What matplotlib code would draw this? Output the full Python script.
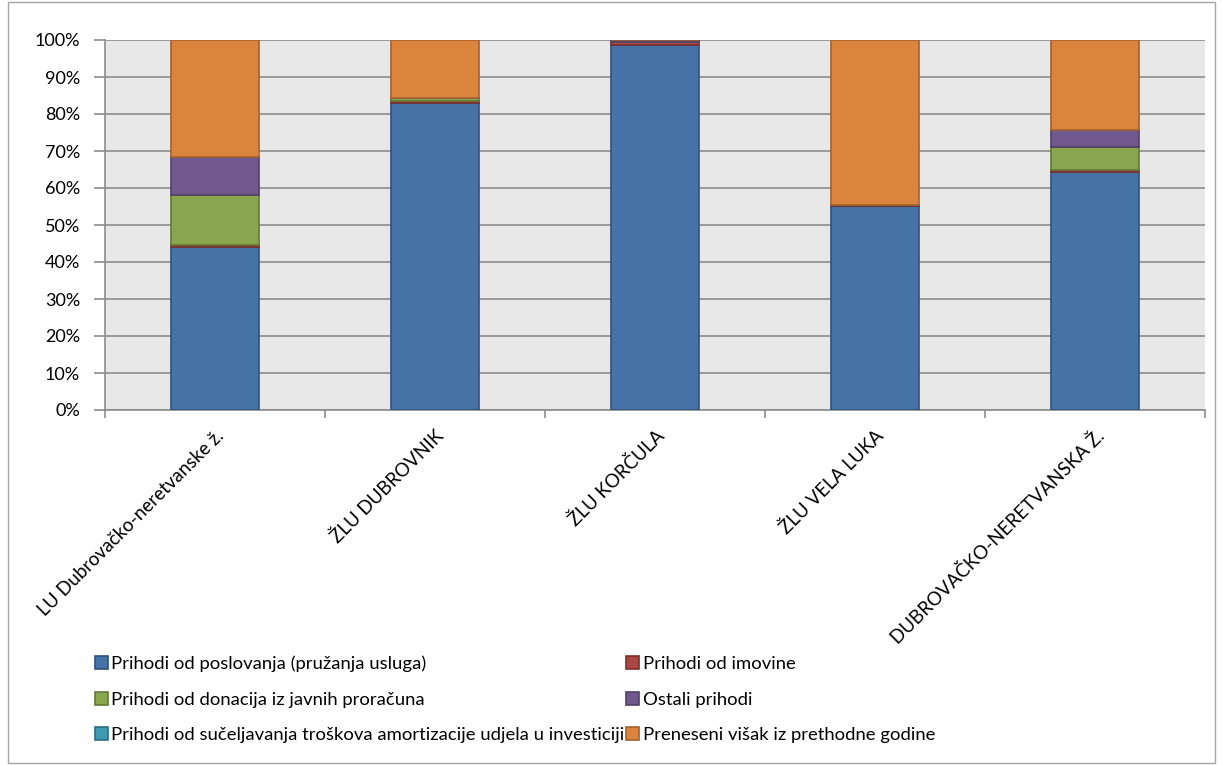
import matplotlib
matplotlib.use("Agg")
import matplotlib.pyplot as plt
import numpy as np
from matplotlib.patches import Rectangle

plt.rcParams['font.family'] = ['Lato', 'DejaVu Sans']

categories = ["LU Dubrovačko-neretvanske ž.", "ŽLU DUBROVNIK", "ŽLU KORČULA",
              "ŽLU VELA LUKA", "DUBROVAČKO-NERETVANSKA Ž."]

series_names = ["Prihodi od poslovanja (pružanja usluga)",
                "Prihodi od imovine",
                "Prihodi od donacija iz javnih proračuna",
                "Ostali prihodi",
                "Prihodi od sučeljavanja troškova amortizacije udjela u investiciji",
                "Preneseni višak iz prethodne godine"]

# shares in % per category
poslovanje = [44.1, 83.0, 98.6, 55.2, 64.4]
imovina    = [0.5, 0.6, 0.9, 0.1, 0.6]
donacije   = [13.5, 0.6, 0.0, 0.0, 6.2]
ostali     = [10.3, 0.2, 0.5, 0.0, 4.5]
amortiz    = [0.0, 0.0, 0.0, 0.0, 0.0]
visak      = [31.6, 15.6, 0.0, 44.7, 24.3]

colors = ["#4572A7", "#AA4643", "#89A54E", "#71588F", "#4198AF", "#DB843D"]
edges  = ["#30527c", "#7d2f2d", "#63793a", "#513f68", "#2d6e80", "#a9602a"]

fig = plt.figure(figsize=(12.23, 7.65), dpi=100)
W, H = 1223, 765
ax = fig.add_axes([105 / W, 1 - 410 / H, 1100 / W, 370 / H])
ax.set_facecolor("#E8E8E8")

x = np.arange(len(categories))
data = [poslovanje, imovina, donacije, ostali, amortiz, visak]
bottom = np.zeros(len(categories))
bars = []
for vals, c, e, name in zip(data, colors, edges, series_names):
    b = ax.bar(x, vals, 0.4, bottom=bottom, color=c, edgecolor=e,
               linewidth=1.2, label=name, zorder=3)
    bars.append(b)
    bottom += np.array(vals)

ax.set_xlim(-0.5, len(categories) - 0.5)
ax.set_ylim(0, 100)
ax.set_yticks(np.arange(0, 101, 10))
ax.set_yticklabels([f"{v}%" for v in range(0, 101, 10)], fontsize=13)
ax.yaxis.grid(True, color="#8C8C8C", linewidth=1.2, zorder=0)
ax.tick_params(axis='y', length=8, color="#8C8C8C", width=1.2, pad=10)

ax.set_xticks(x)
ax.set_xticklabels(categories, rotation=45, ha='right', va='top',
                   rotation_mode='anchor', fontsize=13.5)
ax.tick_params(axis='x', which='major', length=0, pad=12)
ax.set_xticks(np.arange(-0.5, len(categories), 1), minor=True)
ax.tick_params(axis='x', which='minor', length=6, color="#8C8C8C", width=1.2)

for s in ["top", "right"]:
    ax.spines[s].set_visible(False)
for s in ["left", "bottom"]:
    ax.spines[s].set_color("#8C8C8C")
    ax.spines[s].set_linewidth(1.2)

order = [0, 2, 4, 1, 3, 5]
handles = [bars[i] for i in order]
labels = [series_names[i] for i in order]
leg = fig.legend(handles, labels, ncol=2, loc='upper left',
                 bbox_to_anchor=(78 / W, 1 - 639 / H), frameon=False,
                 fontsize=13.3, handlelength=0.7, handleheight=0.7,
                 handletextpad=0.2, columnspacing=0.1, labelspacing=1.05)

fig.patches.append(Rectangle((8 / W, 0.002), 1207 / W, 0.995, transform=fig.transFigure,
                             fill=False, edgecolor="#A6A6A6", linewidth=1.0))

fig.savefig("out.png", dpi=100)
